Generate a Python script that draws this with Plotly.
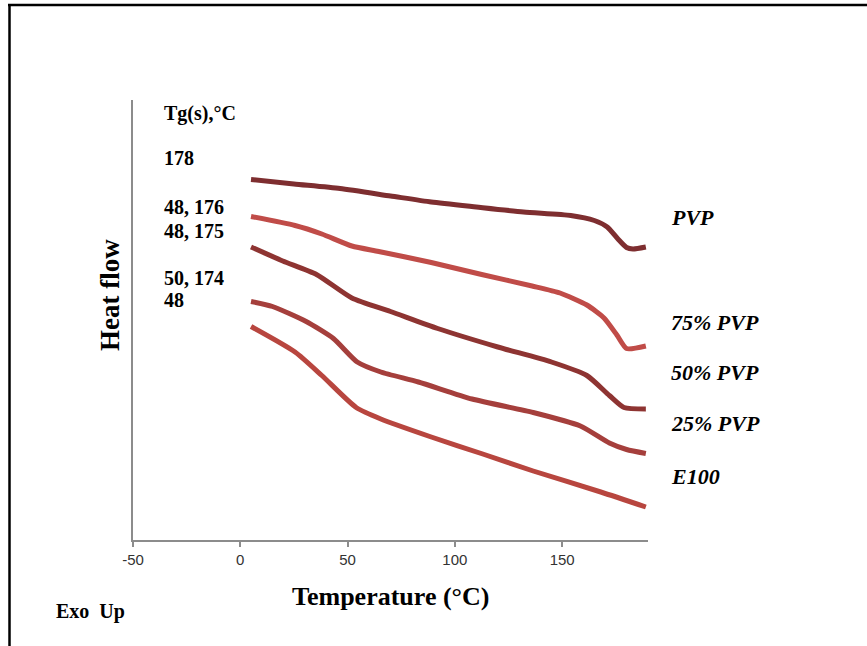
import plotly.graph_objects as go

# ---- Data (temperature in °C, heat flow in arbitrary units) ----
pvp_t = [5, 25, 46.5, 70, 89, 110, 132, 154, 165, 171, 176, 180, 183, 189]
pvp_y = [36.05, 35.6, 35.14, 34.4, 33.8, 33.3, 32.8, 32.45, 31.95, 31.3, 30.1, 29.25, 29.1, 29.3]

p75_t = [5, 25.5, 38, 52, 64.5, 89, 112.5, 136, 149, 161.5, 169.5, 175.5, 180, 189]
p75_y = [32.35, 31.45, 30.6, 29.4, 28.85, 27.75, 26.55, 25.4, 24.7, 23.5, 22.2, 20.5, 19.15, 19.4]

p50_t = [5, 19.8, 35.5, 52, 70, 92, 120, 145, 161.5, 172, 178.8, 189]
p50_y = [29.3, 27.9, 26.55, 24.2, 22.85, 21.15, 19.3, 17.8, 16.45, 14.45, 13.25, 13.1]

p25_t = [5, 15, 30.7, 43.4, 54.5, 65.5, 83, 108, 136.5, 158.5, 172, 180, 189]
p25_y = [23.85, 23.35, 21.85, 20.15, 17.8, 16.8, 15.8, 14.1, 12.75, 11.4, 9.7, 9.05, 8.65]

e100_t = [5, 25.5, 38, 54, 65.5, 89, 113, 136.5, 168, 189]
e100_y = [21.35, 18.8, 16.45, 13.25, 12.1, 10.3, 8.6, 6.9, 4.8, 3.3]

series_names = ["PVP", "75% PVP", "50% PVP", "25% PVP", "E100"]
series_colors = ["#7E2E30", "#C04C48", "#8E3432", "#A53F3C", "#B8463F"]
tg_labels = ["Tg(s),°C", "178", "48, 176", "48, 175", "50, 174", "48"]
x_ticks = [-50, 0, 50, 100, 150]
x_tick_text = ["-50", "0", "50", "100", "150"]

W, H = 867, 646
L, R, T, B = 133, 648, 100, 540


def px(x):
    return (x - L) / (R - L)


def py(y):
    return (B - y) / (B - T)


fig = go.Figure()
data = [(pvp_t, pvp_y), (p75_t, p75_y), (p50_t, p50_y), (p25_t, p25_y), (e100_t, e100_y)]
for (t, y), name, c in zip(data, series_names, series_colors):
    fig.add_trace(go.Scatter(x=t, y=y, mode="lines", name=name,
                             line=dict(color=c, width=5, shape="spline", smoothing=0.6),
                             showlegend=False))

serif = "Liberation Serif, Times New Roman, serif"
ann = []
# Tg labels (left)
tg_y = [113, 158, 207, 231, 278, 300]
for txt, yy in zip(tg_labels, tg_y):
    ann.append(dict(text=f"<b>{txt}</b>", x=px(162), y=py(yy), xref="paper", yref="paper",
                    xanchor="left", yanchor="middle", showarrow=False,
                    font=dict(family=serif, size=20, color="#000000")))
# Series labels (right)
lab_y = [217, 322, 372, 423, 476]
for txt, yy in zip(series_names, lab_y):
    ann.append(dict(text=f"<b><i>{txt}</i></b>", x=px(669), y=py(yy), xref="paper", yref="paper",
                    xanchor="left", yanchor="middle", showarrow=False,
                    font=dict(family=serif, size=22, color="#000000")))
# Axis titles
ann.append(dict(text="<b>Temperature (°C)</b>", x=px(390), y=py(596), xref="paper", yref="paper",
                xanchor="center", yanchor="middle", showarrow=False,
                font=dict(family=serif, size=26, color="#000000")))
ann.append(dict(text="<b>Heat flow</b>", x=px(110), y=py(295), xref="paper", yref="paper",
                xanchor="center", yanchor="middle", showarrow=False, textangle=-90,
                font=dict(family=serif, size=27, color="#000000")))
ann.append(dict(text="<b>Exo  Up</b>", x=px(54), y=py(611), xref="paper", yref="paper",
                xanchor="left", yanchor="middle", showarrow=False,
                font=dict(family=serif, size=20, color="#000000")))

shapes = [
    dict(type="line", xref="paper", yref="paper", x0=px(9.5), x1=px(9.5), y0=py(4), y1=py(646),
         line=dict(color="#000000", width=2.5)),
    dict(type="line", xref="paper", yref="paper", x0=px(8), x1=px(867), y0=py(5), y1=py(5),
         line=dict(color="#000000", width=2.5)),
]

fig.update_layout(
    width=W, height=H,
    margin=dict(l=L, r=W - R, t=T, b=H - B, autoexpand=False),
    paper_bgcolor="white", plot_bgcolor="white",
    font=dict(family="Arial", size=15, color="#333333"),
    annotations=ann, shapes=shapes,
)
fig.update_xaxes(range=[-50, 190], tickmode="array", tickvals=x_ticks, ticktext=x_tick_text,
                 showgrid=False, zeroline=False, automargin=False,
                 showline=True, linecolor="#8C8C8C", linewidth=1.5,
                 ticks="outside", ticklen=5, tickcolor="#8C8C8C", tickwidth=1.5,
                 tickfont_size=15, tickfont_color="#333333", tickfont_family="Arial")
fig.update_yaxes(range=[0, 44], showgrid=False, zeroline=False, showticklabels=False,
                 showline=True, linecolor="#8C8C8C", linewidth=1.5, ticks="", automargin=False)

fig.write_html("out.html")
